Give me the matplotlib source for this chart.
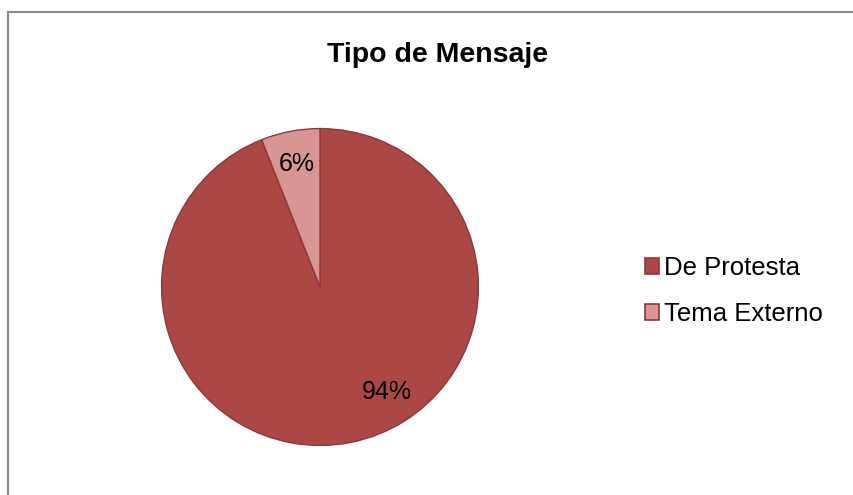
import matplotlib.pyplot as plt
from matplotlib.patches import Patch
from matplotlib.lines import Line2D

plt.rcParams['font.family'] = ['Liberation Sans', 'DejaVu Sans']

# datos
categorias = ['De Protesta', 'Tema Externo']
valores = [94, 6]
colores = ['#AB4744', '#D79694']
borde = '#8C3836'

fig = plt.figure(figsize=(8.54, 4.95), dpi=100)

# marco del grafico (solo se ve arriba e izquierda)
fig.add_artist(Line2D([8/854, 8/854], [0, 1 - 12/495], transform=fig.transFigure, color='#8a8a8a', lw=1.5))
fig.add_artist(Line2D([8/854, 1], [1 - 12/495, 1 - 12/495], transform=fig.transFigure, color='#8a8a8a', lw=1.5))

fig.text(438/854, 1 - 55/495, 'Tipo de Mensaje', ha='center', va='center',
         fontsize=20.5, fontweight='bold')

ax = fig.add_axes([160/854, 48/495, 320/854, 320/495])
wedges, textos, pcts = ax.pie(valores, colors=colores, startangle=90, counterclock=False,
                              autopct='%1.0f%%', pctdistance=0.79,
                              wedgeprops=dict(edgecolor=borde, linewidth=1),
                              textprops=dict(fontsize=18))
ax.set_xlim(-1.01, 1.01)
ax.set_ylim(-1.01, 1.01)
pcts[0].set_position((0.42, -0.66))

handles = [Patch(facecolor=c, edgecolor=borde, linewidth=1.2) for c in colores]
fig.legend(handles, categorias, loc='center left', bbox_to_anchor=(645/854, 1 - 291/495),
           frameon=False, fontsize=18.5, handlelength=0.55, handleheight=0.55,
           handletextpad=0.2, labelspacing=0.85, borderpad=0, borderaxespad=0)

fig.savefig('out.png', dpi=100)
